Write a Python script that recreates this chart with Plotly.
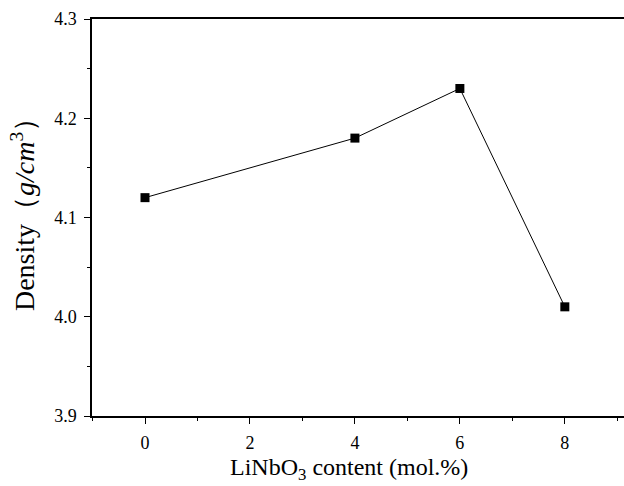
import plotly.graph_objects as go

content = [0, 4, 6, 8]
density = [4.12, 4.18, 4.23, 4.01]

fig = go.Figure()
fig.add_trace(go.Scatter(
    x=content, y=density, mode="lines+markers",
    line=dict(color="black", width=1),
    marker=dict(symbol="square", size=9, color="black"),
    showlegend=False, hoverinfo="skip",
))

font_family = "Liberation Serif, Times New Roman, serif"
axis_common = dict(
    showgrid=False, zeroline=False, showline=True, linecolor="black", linewidth=1.5,
    mirror=True, ticks="outside", ticklen=6, tickwidth=1.2, tickcolor="black",
    tickfont=dict(family=font_family, size=18, color="black"),
    automargin=False, ticklabelstandoff=4,
)
fig.update_xaxes(
    range=[-1.01, 9.28], tickmode="linear", tick0=0, dtick=2,
    minor=dict(ticks="outside", ticklen=3, tickwidth=1.2, tickcolor="black", dtick=1, tick0=1),
    **axis_common,
)
fig.update_yaxes(
    range=[3.9, 4.3], tickmode="linear", tick0=3.9, dtick=0.1, tickformat=".1f",
    minor=dict(ticks="outside", ticklen=3, tickwidth=1.2, tickcolor="black", dtick=0.05),
    **axis_common,
)
fig.add_annotation(
    text="LiNbO<sub>3</sub> content (mol.%)", xref="paper", yref="paper",
    x=0.476, y=-0.134, xanchor="center", yanchor="middle", showarrow=False,
    font=dict(family=font_family, size=24, color="black"),
)
fig.add_annotation(
    text="Density（<i>g/cm</i><sup>3</sup>）", xref="paper", yref="paper",
    x=-0.128, y=0.526, xanchor="center", yanchor="middle", showarrow=False, textangle=-90,
    font=dict(family=font_family, size=28, color="black"),
)
fig.update_layout(
    width=632, height=486,
    margin=dict(l=92, r=0, t=19, b=70),
    paper_bgcolor="white", plot_bgcolor="white",
)
fig.write_html(
    "out.html",
    config={"displayModeBar": False},
    post_script="document.body.style.margin='0';document.body.style.overflow='hidden';",
)
